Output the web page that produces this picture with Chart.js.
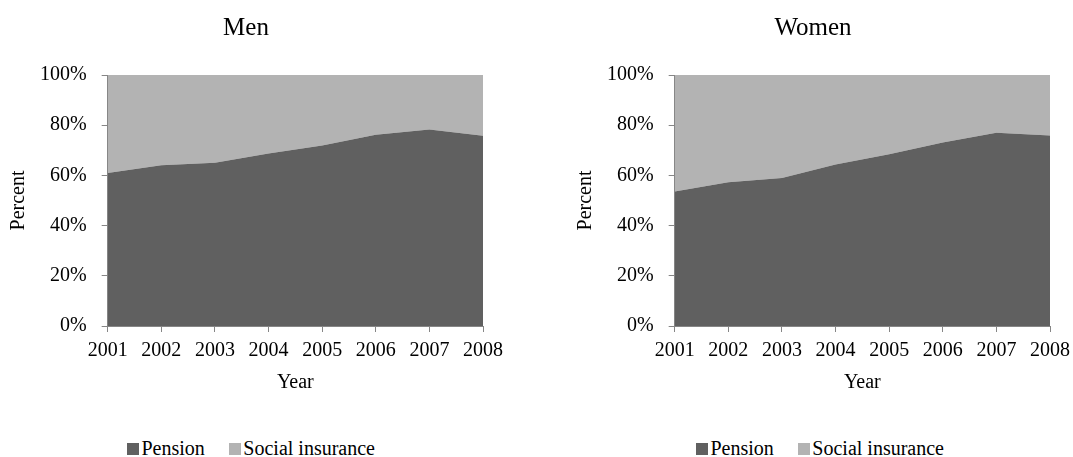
<!DOCTYPE html>
<html><head><meta charset="utf-8">
<script src="https://cdn.jsdelivr.net/npm/chart.js@4/dist/chart.umd.min.js"></script>
<style>
html,body{margin:0;padding:0;background:#fff;width:1073px;height:457px;overflow:hidden;position:relative}
.box{position:absolute;top:0;height:400px}
.leg{position:absolute;top:438px;font-family:'Liberation Serif','Times New Roman',serif;font-size:20px;line-height:20px;color:#000;white-space:nowrap}
.leg .sw{display:inline-block;width:12px;height:12px;vertical-align:baseline;margin-right:2.5px}
.leg .it{margin-right:24px}
</style></head><body>
<div class="box" style="left:0;width:510px"><canvas id="c1"></canvas></div>
<div class="box" style="left:567px;width:510px"><canvas id="c2"></canvas></div>
<div class="leg" id="l1" style="left:127px"></div>
<div class="leg" id="l2" style="left:696px"></div>
<script>
const years = ['2001','2002','2003','2004','2005','2006','2007','2008'];
const menPension = [61, 64, 65, 68.7, 71.9, 76.2, 78.3, 75.8];
const menSocial = [39, 36, 35, 31.3, 28.1, 23.8, 21.7, 24.2];
const womenPension = [53.6, 57.3, 59, 64.3, 68.4, 73.1, 77, 75.9];
const womenSocial = [46.4, 42.7, 41, 35.7, 31.6, 26.9, 23, 24.1];
const yTicks = [0, 20, 40, 60, 80, 100];

const FONT = "'Liberation Serif','Times New Roman',serif";
const AX = '#868686';
Chart.defaults.font.family = FONT;
Chart.defaults.color = '#000';

function make(id, legId, title, pension, social) {
  const chart = new Chart(document.getElementById(id), {
    type: 'line',
    data: {
      labels: years,
      datasets: [
        {label: 'Pension', data: pension, fill: 'origin', backgroundColor: '#606060', borderWidth: 0, pointRadius: 0, tension: 0},
        {label: 'Social insurance', data: social, fill: '-1', backgroundColor: '#b3b3b3', borderWidth: 0, pointRadius: 0, tension: 0}
      ]
    },
    options: {
      responsive: true, maintainAspectRatio: false, animation: false,
      layout: {padding: {left: 4, right: 22, top: 0, bottom: 3}},
      plugins: {
        title: {display: true, text: title, font: {size: 25, weight: 'normal'}, color: '#000', padding: {top: 13, bottom: 32}},
        legend: {display: false},
        tooltip: {enabled: false}
      },
      scales: {
        x: {offset: false, grid: {display: true, drawOnChartArea: false, drawTicks: true, tickLength: 6, color: AX},
            border: {color: AX, width: 1},
            ticks: {font: {size: 20}, color: '#000', maxRotation: 0, autoSkip: false, padding: 7},
            title: {display: true, text: 'Year', font: {size: 20}, color: '#000', padding: {top: 1, bottom: 2}}},
        y: {stacked: true, min: 0, max: 100,
            afterBuildTicks: (s) => { s.ticks = yTicks.map(v => ({value: v})); },
            grid: {display: true, drawOnChartArea: false, tickLength: 6, color: AX},
            border: {color: AX, width: 1},
            ticks: {font: {size: 20}, color: '#000', padding: 15, callback: (v) => v + '%'},
            title: {display: true, text: 'Percent', font: {size: 20, lineHeight: 1}, color: '#000', padding: {top: 5, bottom: -4}}}
      }
    }
  });
  const leg = document.getElementById(legId);
  chart.data.datasets.forEach((d) => {
    const it = document.createElement('span');
    it.className = 'it';
    const sw = document.createElement('span');
    sw.className = 'sw';
    sw.style.background = d.backgroundColor;
    it.appendChild(sw);
    it.appendChild(document.createTextNode(d.label));
    leg.appendChild(it);
  });
}
make('c1', 'l1', 'Men', menPension, menSocial);
make('c2', 'l2', 'Women', womenPension, womenSocial);
</script>
</body></html>
